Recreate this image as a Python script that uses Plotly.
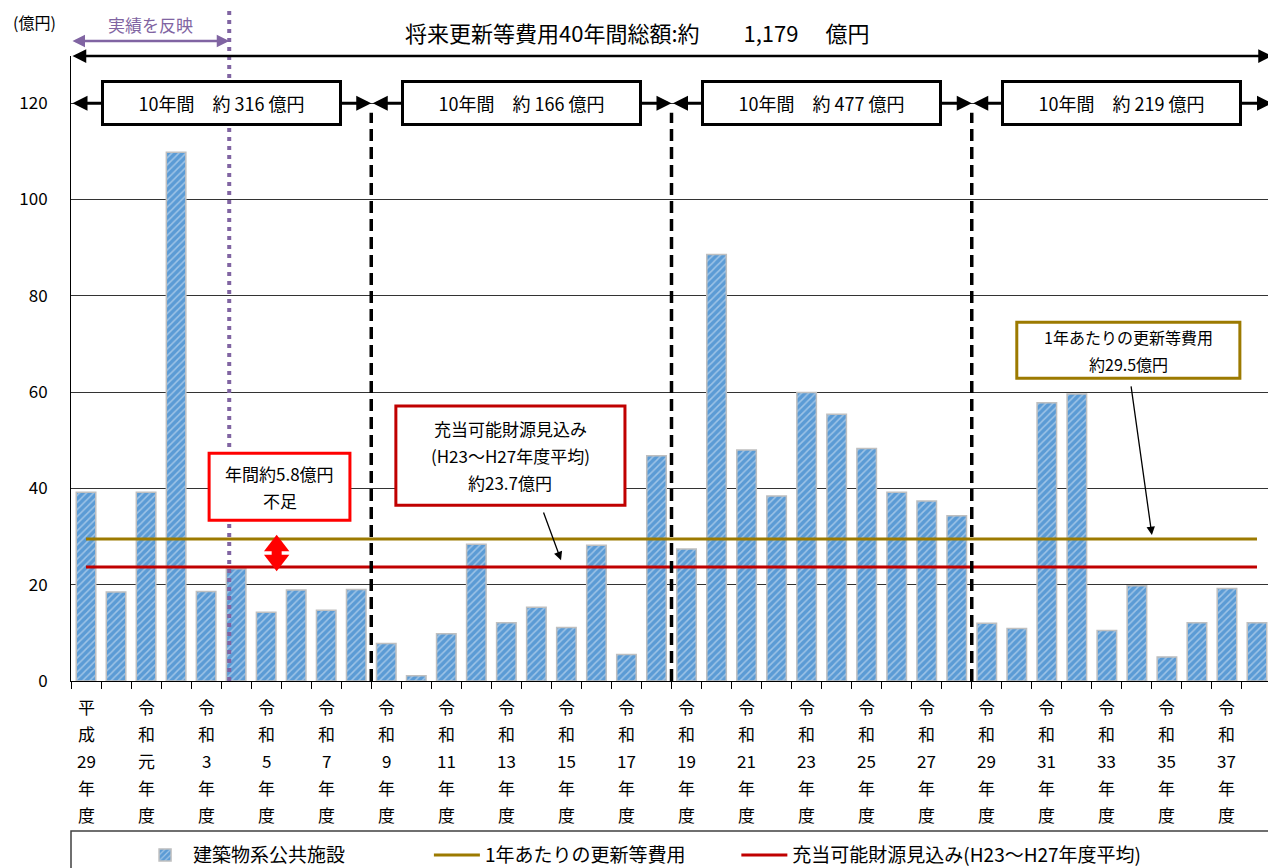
import plotly.graph_objects as go

# ---------------- data ----------------
years = ["平成29年度", "平成30年度", "令和元年度", "令和2年度", "令和3年度", "令和4年度",
         "令和5年度", "令和6年度", "令和7年度", "令和8年度", "令和9年度", "令和10年度",
         "令和11年度", "令和12年度", "令和13年度", "令和14年度", "令和15年度", "令和16年度",
         "令和17年度", "令和18年度", "令和19年度", "令和20年度", "令和21年度", "令和22年度",
         "令和23年度", "令和24年度", "令和25年度", "令和26年度", "令和27年度", "令和28年度",
         "令和29年度", "令和30年度", "令和31年度", "令和32年度", "令和33年度", "令和34年度",
         "令和35年度", "令和36年度", "令和37年度", "令和38年度"]

building_cost = [39.2, 18.5, 39.2, 109.8, 18.6, 23.3, 14.3, 18.9, 14.7, 19.0,
                 7.8, 1.1, 9.8, 28.4, 12.1, 15.3, 11.1, 28.2, 5.5, 46.8,
                 27.4, 88.6, 48.0, 38.4, 59.9, 55.4, 48.3, 39.2, 37.4, 34.3,
                 12.0, 10.9, 57.8, 59.6, 10.5, 19.8, 5.0, 12.1, 19.2, 12.1]

tick_era = ["平成", "令和", "令和", "令和", "令和", "令和", "令和", "令和", "令和", "令和",
            "令和", "令和", "令和", "令和", "令和", "令和", "令和", "令和", "令和", "令和"]
tick_num = ["29", "元", "3", "5", "7", "9", "11", "13", "15", "17",
            "19", "21", "23", "25", "27", "29", "31", "33", "35", "37"]

annual_cost = 29.5        # 1年あたりの更新等費用
available_funds = 23.7    # 充当可能財源見込み
decade_totals = [316, 166, 477, 219]
total_label = "1,179"
actual_boundary = 4.77    # 実績を反映 の境界（カテゴリ位置）

FONT = "Noto Sans CJK JP"
BLUE = "#5B9BD5"
GOLD = "#9C7A00"
DARKRED = "#C00000"
PURPLE = "#8064A2"

xs = list(range(len(years)))
n = len(years)
tickvals = xs[::2]

fig = go.Figure()

fig.add_trace(go.Bar(
    x=xs, y=building_cost, name="建築物系公共施設", width=0.65, legend="legend",
    marker=dict(color=BLUE, line=dict(color="#BFBFBF", width=1.5),
                pattern=dict(shape="/", fgcolor="#E3EEF9", bgcolor=BLUE, size=5,
                             solidity=0.3, fillmode="overlay")),
    hovertext=years,
))
fig.add_trace(go.Scatter(
    x=[xs[0], xs[-1]], y=[annual_cost, annual_cost], mode="lines", legend="legend2",
    name="1年あたりの更新等費用", line=dict(color=GOLD, width=3)))
fig.add_trace(go.Scatter(
    x=[xs[0], xs[-1]], y=[available_funds, available_funds], mode="lines", legend="legend3",
    name="充当可能財源見込み(H23～H27年度平均)", line=dict(color=DARKRED, width=3)))

# red fat double arrow showing the shortage
gap_x = 6.35
fig.add_trace(go.Scatter(
    x=[gap_x, gap_x], y=[annual_cost - 1.4, available_funds + 1.4], mode="lines+markers",
    line=dict(color="#FF0000", width=10),
    marker=dict(symbol=["triangle-up", "triangle-down"], size=22, color="#FF0000",
                line=dict(width=0)),
    showlegend=False, hoverinfo="skip"))

shapes = []
annotations = []

# decade dashed separators
for k in range(1, len(decade_totals)):
    xb = 10 * k - 0.5
    shapes.append(dict(type="line", xref="x", yref="y", x0=xb, x1=xb, y0=0, y1=118,
                       line=dict(color="black", width=3.5, dash="12px,6px")))

# purple dotted line (actual results)
shapes.append(dict(type="line", xref="x", yref="y domain", x0=actual_boundary, x1=actual_boundary,
                   y0=0, y1=1.078, line=dict(color=PURPLE, width=4, dash="4px,5px")))

# legend frame
shapes.append(dict(type="rect", xref="paper", yref="paper", x0=0, x1=1.01, y0=-0.24, y1=-0.33,
                   line=dict(color="#404040", width=1.5), fillcolor="rgba(0,0,0,0)"))

# callout boxes: (x0, x1, y0, y1, border colour, lines, font size)
callouts = [
    (31.0, 38.43, 62.9, 74.5, GOLD,
     ["1年あたりの更新等費用", f"約{annual_cost}億円"], 16),
    (10.32, 17.95, 36.5, 57.1, DARKRED,
     ["充当可能財源見込み", "(H23～H27年度平均)", f"約{available_funds}億円"], 17),
    (4.10, 8.79, 33.4, 47.3, "#FF0000",
     [f"年間約{annual_cost - available_funds:.1f}億円", "不足"], 17),
]
for cx0, cx1, cy0, cy1, col, lines, fs in callouts:
    shapes.append(dict(type="rect", xref="x", yref="y", x0=cx0, x1=cx1, y0=cy0, y1=cy1,
                       fillcolor="white", line=dict(color=col, width=3), layer="above"))
    m = len(lines)
    for j, s in enumerate(lines):
        annotations.append(dict(x=(cx0 + cx1) / 2, y=(cy0 + cy1) / 2, xref="x", yref="y",
                                yshift=13.5 * (m - 1) - 27 * j, text=s, showarrow=False,
                                yanchor="middle", font=dict(size=fs, color="black", family=FONT)))

# x tick labels (vertical, one character/number per line)
for tv, era, num in zip(tickvals, tick_era, tick_num):
    lines = list(era) + [num, "年", "度"]
    for j, s in enumerate(lines):
        annotations.append(dict(x=tv, y=-0.04 - 0.0435 * j, xref="x", yref="paper",
                                text=s, showarrow=False, yanchor="middle",
                                font=dict(size=17, color="black", family=FONT)))

# top total arrow
annotations.append(dict(x=n - 0.5, y=1.0, xref="x", yref="y domain",
                        ax=-0.5, ay=1.0, axref="x", ayref="y domain",
                        showarrow=True, arrowhead=2, startarrowhead=2, arrowside="end+start",
                        arrowwidth=2.5, arrowsize=1.1, startarrowsize=1.1, arrowcolor="black", text=""))
annotations.append(dict(x=0.471, y=1.038, xref="paper", yref="paper", showarrow=False,
                        text=f"将来更新等費用40年間総額:約\u3000\u3000{total_label}\u3000\u00a0億円",
                        font=dict(size=22, color="black", family=FONT), yanchor="middle"))

# purple arrow
annotations.append(dict(x=actual_boundary, y=1.024, xref="x", yref="y domain",
                        ax=-0.5, ay=1.024, axref="x", ayref="y domain",
                        showarrow=True, arrowhead=2, startarrowhead=2, arrowside="end+start",
                        arrowwidth=2.5, arrowsize=1, startarrowsize=1, arrowcolor=PURPLE, text=""))
annotations.append(dict(x=(actual_boundary - 0.5) / 2, y=1.05, xref="x", yref="y domain",
                        showarrow=False, text="実績を反映", yanchor="middle",
                        font=dict(size=17, color=PURPLE, family=FONT)))

# y unit
annotations.append(dict(x=-0.05, y=1.054, xref="paper", yref="paper", showarrow=False,
                        text="(億円)", font=dict(size=16, color="black", family=FONT),
                        xanchor="left", yanchor="middle"))

# decade arrows and boxes
for k, tot in enumerate(decade_totals):
    x0 = 10 * k - 0.5
    x1 = 10 * k + 9.5
    annotations.append(dict(x=x1, y=120, xref="x", yref="y", ax=x0, ay=120, axref="x", ayref="y",
                            showarrow=True, arrowhead=2, startarrowhead=2, arrowside="end+start",
                            arrowwidth=3, arrowsize=1, startarrowsize=1, arrowcolor="black",
                            text=""))
    annotations.append(dict(x=10 * k + 4.5, y=120, xref="x", yref="y", showarrow=False,
                            text=f"10年間\u3000約 {tot} 億円", width=233, height=38,
                            bgcolor="white", bordercolor="black", borderwidth=3,
                            font=dict(size=18, color="black", family=FONT)))

# callout arrows
annotations.append(dict(x=35.5, y=30.3, xref="x", yref="y", ax=34.8, ay=61.5, axref="x", ayref="y",
                        showarrow=True, arrowhead=2, arrowwidth=1.3, arrowsize=1.3,
                        arrowcolor="black", text=""))
annotations.append(dict(x=15.82, y=25.1, xref="x", yref="y", ax=15.22, ay=35.3, axref="x", ayref="y",
                        showarrow=True, arrowhead=2, arrowwidth=1.3, arrowsize=1.3,
                        arrowcolor="black", text=""))

leg_common = dict(orientation="h", y=-0.2785, xanchor="left", yanchor="middle",
                  font=dict(size=19, family=FONT), itemwidth=46,
                  bgcolor="rgba(0,0,0,0)")

# the page body adds an 8px offset; size and margins compensate for it
fig.update_layout(
    width=1268, height=860,
    margin=dict(l=63, r=4, t=48, b=187, autoexpand=False),
    paper_bgcolor="white", plot_bgcolor="white",
    font=dict(family=FONT, color="black"),
    showlegend=True,
    legend=dict(x=0.055, **leg_common),
    legend2=dict(x=0.298, **leg_common),
    legend3=dict(x=0.554, **leg_common),
    shapes=shapes,
    annotations=annotations,
)
fig.update_xaxes(range=[-0.5, n - 0.5], tickmode="array", tickvals=tickvals,
                 showticklabels=False,
                 ticks="", showgrid=False, showline=True, linecolor="black", linewidth=1,
                 minor=dict(tickmode="array", tickvals=[i - 0.5 for i in range(n + 1)],
                            ticks="outside", ticklen=7, tickcolor="black", tickwidth=1,
                            showgrid=False),
                 zeroline=False)
fig.update_yaxes(range=[0, 129.8], tickmode="array", tickvals=[0, 20, 40, 60, 80, 100, 120],
                 showgrid=True, gridcolor="#333333", gridwidth=1, zeroline=False,
                 showline=True, linecolor="black", linewidth=1, mirror=True, ticks="",
                 tickfont=dict(size=17, family=FONT), ticklabelstandoff=19)

fig.write_html("out.html")
